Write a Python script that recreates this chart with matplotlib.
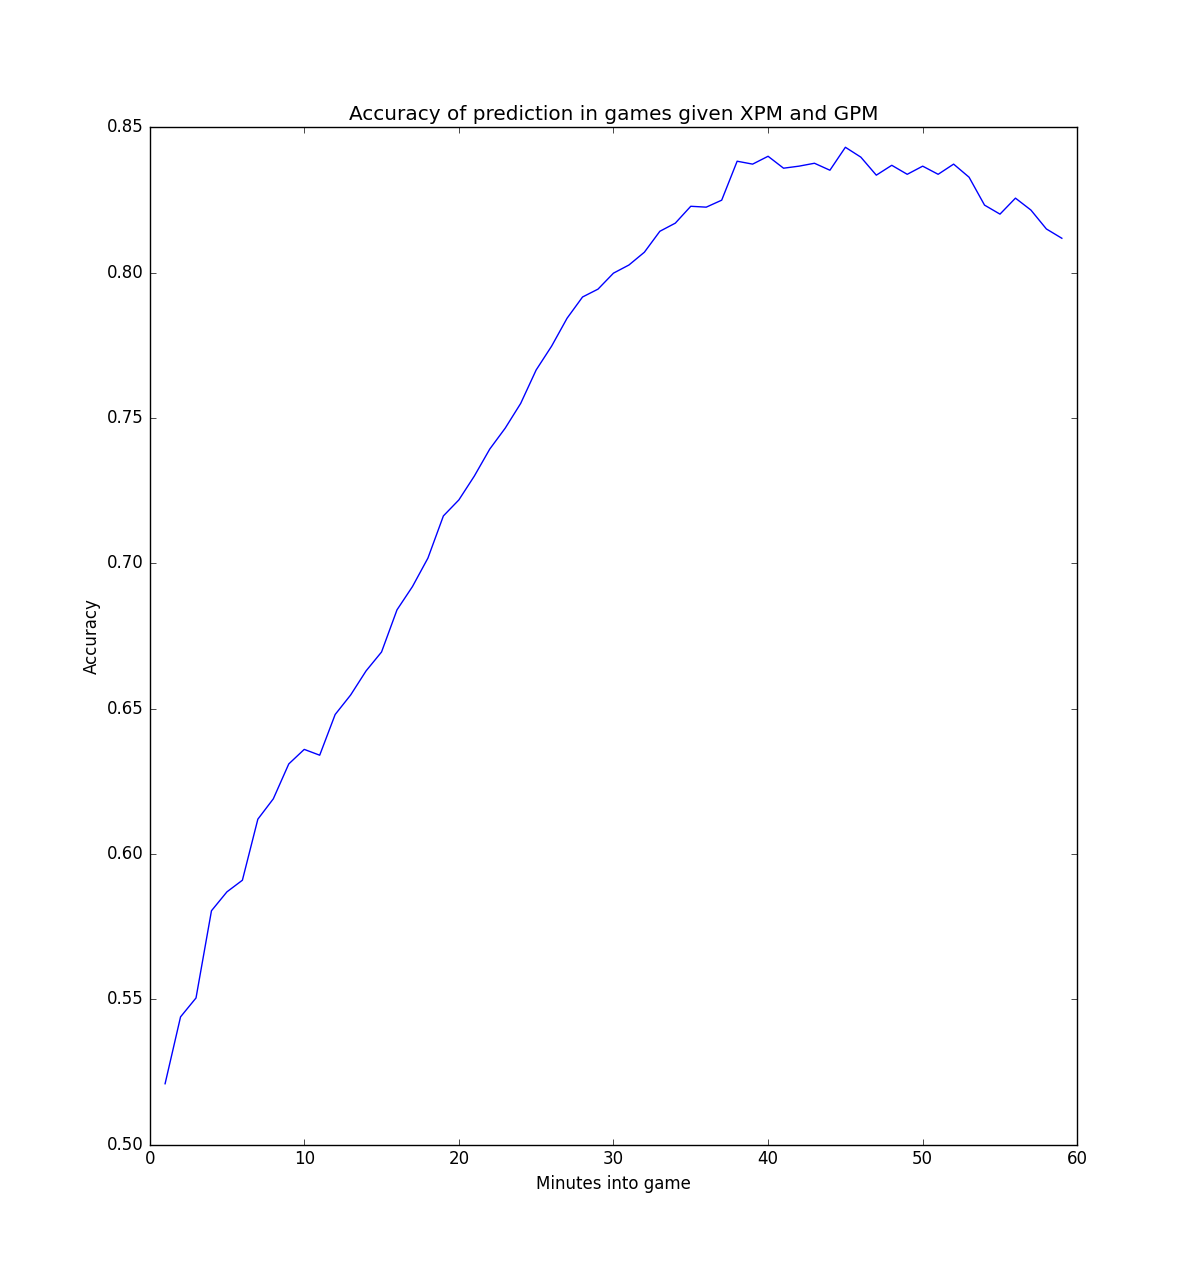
import matplotlib
matplotlib.use("Agg")
import matplotlib.pyplot as plt

# minutes into the game and the model accuracy at each minute
minutes = list(range(1, 60))
accuracy = [
    0.521, 0.544, 0.5505, 0.5805, 0.587, 0.591, 0.612, 0.619, 0.631, 0.636,
    0.634, 0.648, 0.6547, 0.663, 0.6695, 0.684, 0.692, 0.7018, 0.7163, 0.7218,
    0.730, 0.7393, 0.7465, 0.755, 0.7665, 0.7747, 0.7843, 0.7916, 0.7943, 0.7998,
    0.8026, 0.807, 0.8142, 0.817, 0.8228, 0.8225, 0.8249, 0.8383, 0.8373, 0.840,
    0.8359, 0.8366, 0.8376, 0.8352, 0.8431, 0.8397, 0.8335, 0.8369, 0.8338, 0.8366,
    0.8338, 0.8373, 0.8328, 0.8232, 0.8201, 0.8256, 0.8215, 0.815, 0.8118,
]

plt.style.use("classic")
fig = plt.figure(figsize=(11.97, 12.72), dpi=100)
ax = fig.add_subplot(111)
ax.plot(minutes, accuracy, color="b")
ax.set_xlim(0, 60)
ax.set_ylim(0.50, 0.85)
ax.set_title("Accuracy of prediction in games given XPM and GPM")
ax.set_xlabel("Minutes into game")
ax.set_ylabel("Accuracy")
fig.savefig("out.png", dpi=100, facecolor="white")
